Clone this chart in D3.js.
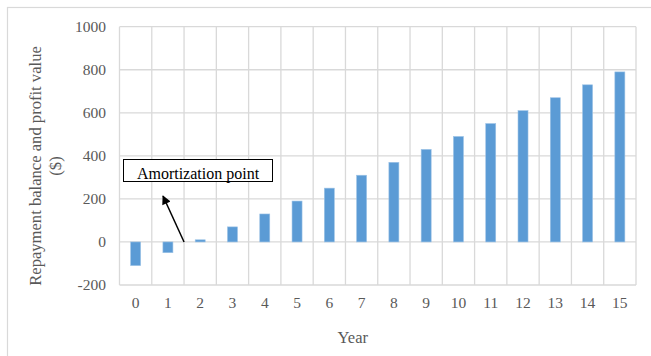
<!DOCTYPE html>
<html>
<head>
<meta charset="utf-8">
<script src="https://cdn.jsdelivr.net/npm/d3@7"></script>
<style>
  html, body { margin: 0; padding: 0; background: #fff; }
  svg { display: block; }
</style>
</head>
<body>
<script>
// Break-even chart: repayment balance and profit value by year
const years = ["0","1","2","3","4","5","6","7","8","9","10","11","12","13","14","15"];
const values = [-110, -50, 10, 70, 130, 190, 250, 310, 370, 430, 490, 550, 610, 670, 730, 790];
const yTicks = [-200, 0, 200, 400, 600, 800, 1000];
const yTitleLines = ["Repayment balance and profit value", "($)"];
const xTitle = "Year";
const noteText = "Amortization point";

const W = 651, H = 356;
const plot = { left: 119.5, right: 636, top: 26.7, bottom: 285 };
const font = "'Liberation Serif', 'Times New Roman', serif";

const svg = d3.select("body").append("svg")
  .attr("width", W).attr("height", H);

// chart frame
svg.append("rect")
  .attr("x", 7.5).attr("y", 7.5).attr("width", W + 10).attr("height", H + 10)
  .attr("fill", "none").attr("stroke", "#d9d9d9").attr("stroke-width", 1.2);

const x = d3.scaleBand().domain(years).range([plot.left, plot.right]).paddingInner(0).paddingOuter(0);
const y = d3.scaleLinear().domain([-200, 1000]).range([plot.bottom, plot.top]);

const grid = svg.append("g").attr("stroke", "#d9d9d9").attr("stroke-width", 1.3);
// horizontal gridlines
grid.selectAll("line.h").data(yTicks).join("line")
  .attr("class", "h")
  .attr("x1", plot.left).attr("x2", plot.right)
  .attr("y1", d => y(d)).attr("y2", d => y(d));
// vertical gridlines at category boundaries
const bounds = years.map(d => x(d)).concat([x(years[years.length - 1]) + x.bandwidth()]);
grid.selectAll("line.v").data(bounds).join("line")
  .attr("class", "v")
  .attr("x1", d => d).attr("x2", d => d)
  .attr("y1", plot.top).attr("y2", plot.bottom);

// bars
const barW = x.bandwidth() * 0.31;
svg.append("g").selectAll("rect").data(values).join("rect")
  .attr("x", (d, i) => x(years[i]) + (x.bandwidth() - barW) / 2)
  .attr("y", d => y(Math.max(0, d)))
  .attr("width", barW)
  .attr("height", d => Math.abs(y(d) - y(0)))
  .attr("fill", "#5b9bd5")
  .attr("stroke", "#9dc3e6").attr("stroke-width", 0.6);

// y axis labels
const yAxis = d3.axisLeft(y).tickValues(yTicks).tickFormat(d => String(d))
  .tickSize(0).tickPadding(13.5);
const gy = svg.append("g").attr("transform", `translate(${plot.left},0)`).call(yAxis);
gy.select(".domain").remove();
gy.selectAll("text").attr("font-family", font).attr("font-size", 15.5).attr("fill", "#595959");

// x axis labels
const xAxis = d3.axisBottom(x).tickSize(0).tickPadding(12);
const gx = svg.append("g").attr("transform", `translate(0,${plot.bottom})`).call(xAxis);
gx.select(".domain").remove();
gx.selectAll("text").attr("font-family", font).attr("font-size", 15.5).attr("fill", "#595959");

// axis titles
svg.append("text")
  .attr("x", (plot.left + plot.right) / 2 - 25).attr("y", 343)
  .attr("text-anchor", "middle")
  .attr("font-family", font).attr("font-size", 16.5).attr("fill", "#595959")
  .text(xTitle);

const yt = svg.append("text")
  .attr("transform", `translate(40.5,166) rotate(-90)`)
  .attr("text-anchor", "middle")
  .attr("font-family", font).attr("font-size", 16.6).attr("fill", "#595959");
yTitleLines.forEach((t, i) => {
  yt.append("tspan").attr("x", 0).attr("dy", i === 0 ? 0 : 20).text(t);
});

// annotation box with arrow
const defs = svg.append("defs");
defs.append("marker")
  .attr("id", "head").attr("viewBox", "0 0 10 10")
  .attr("refX", 9).attr("refY", 5)
  .attr("markerWidth", 7).attr("markerHeight", 6)
  .attr("orient", "auto")
  .append("path").attr("d", "M0,0 L10,5 L0,10 Z").attr("fill", "#000");

svg.append("rect")
  .attr("x", 123.5).attr("y", 159.5).attr("width", 149).attr("height", 22)
  .attr("fill", "#fff").attr("stroke", "#000").attr("stroke-width", 1);
svg.append("text")
  .attr("x", 198).attr("y", 179)
  .attr("text-anchor", "middle")
  .attr("font-family", font).attr("font-size", 16).attr("fill", "#000")
  .text(noteText);

const arrowFrom = [x(years[1]) + x.bandwidth(), y(0)];
svg.append("line")
  .attr("x1", arrowFrom[0]).attr("y1", arrowFrom[1])
  .attr("x2", 163).attr("y2", 196)
  .attr("stroke", "#000").attr("stroke-width", 1.5)
  .attr("marker-end", "url(#head)");
</script>
</body>
</html>
